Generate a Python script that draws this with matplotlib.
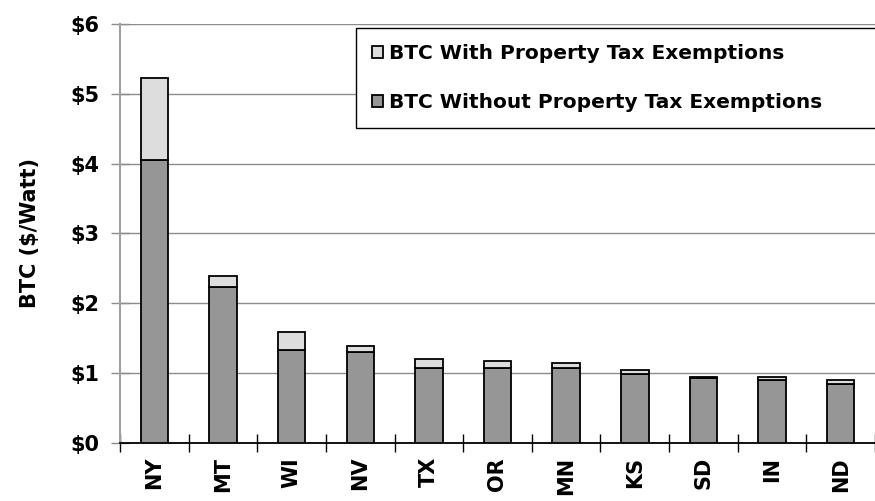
import matplotlib.pyplot as plt
import numpy as np

plt.rcParams['font.family'] = ['DejaVu Sans']
plt.rcParams['font.weight'] = 'bold'

states = ['NY', 'MT', 'WI', 'NV', 'TX', 'OR', 'MN', 'KS', 'SD', 'IN', 'ND']
btc_without = [4.05, 2.24, 1.33, 1.31, 1.07, 1.07, 1.07, 0.99, 0.93, 0.90, 0.85]
btc_with = [5.23, 2.39, 1.59, 1.39, 1.20, 1.17, 1.14, 1.05, 0.95, 0.95, 0.90]
yticks = [0, 1, 2, 3, 4, 5, 6]
ytick_labels = ['$0', '$1', '$2', '$3', '$4', '$5', '$6']

extra = np.array(btc_with) - np.array(btc_without)
x = np.arange(len(states))

fig = plt.figure(figsize=(8.75, 5.01), dpi=100)
ax = fig.add_axes([120 / 875, 58 / 501, 755 / 875, 419 / 501])

ax.bar(x, btc_without, width=0.4, color='#969696', edgecolor='black', linewidth=1.3,
       label='BTC Without Property Tax Exemptions', zorder=3)
ax.bar(x, extra, bottom=btc_without, width=0.4, color='#dddddd', edgecolor='black',
       linewidth=1.3, label='BTC With Property Tax Exemptions', zorder=3)

ax.set_xlim(-0.5, len(states) - 0.5)
ax.set_ylim(0, 6)
ax.set_yticks(yticks)
ax.set_yticklabels(ytick_labels, fontsize=15, fontweight='bold')
ax.yaxis.grid(True, color='#8c8c8c', linewidth=1.0, zorder=0)

ax.set_xticks(np.arange(-0.5, len(states), 1.0))
ax.set_xticklabels([])
ax.set_xticks(x, minor=True)
ax.set_xticklabels(states, minor=True, rotation=90, fontsize=15, fontweight='bold')
ax.tick_params(axis='x', which='minor', length=0, pad=10)
ax.tick_params(axis='x', which='major', direction='inout', length=13, width=1.0)
ax.tick_params(axis='y', direction='inout', length=13, width=1.0, color='#8c8c8c', pad=8)

for s in ['top', 'right']:
    ax.spines[s].set_visible(False)
ax.spines['left'].set_color('#a0a0a0')
ax.spines['left'].set_linewidth(1.5)
ax.spines['bottom'].set_color('black')
ax.spines['bottom'].set_linewidth(1.3)

ax.set_ylabel('BTC ($/Watt)', fontsize=15, fontweight='bold', labelpad=22)

# legend box runs off the right edge like the original
handles, labels = ax.get_legend_handles_labels()
leg = ax.legend(handles[::-1], labels[::-1], loc='upper left', mode='expand',
                bbox_to_anchor=(356 / 875, 1 - 28 / 501, (884 - 356) / 875, 0),
                bbox_transform=fig.transFigure,
                borderaxespad=0, fancybox=False, framealpha=1, edgecolor='black',
                prop={'size': 14.5, 'weight': 'bold'}, handlelength=0.55, handleheight=0.55,
                handletextpad=0.3, labelspacing=1.5, borderpad=0.8)
leg.get_frame().set_linewidth(1.0)
leg.set_zorder(5)

fig.savefig('out.png', dpi=100)
